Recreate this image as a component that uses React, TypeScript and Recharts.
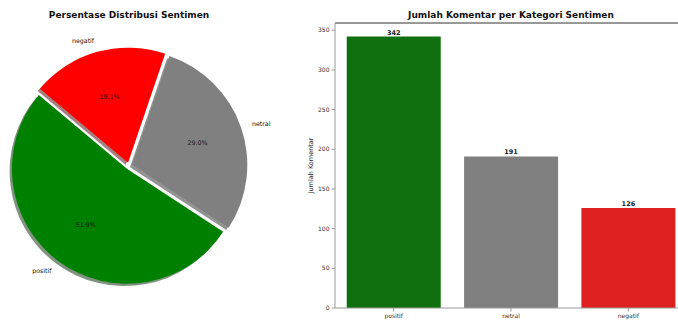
import { PieChart, Pie, Sector, BarChart, Bar, XAxis, YAxis, Cell, LabelList, ReferenceLine } from "recharts";

const categories = ["positif", "netral", "negatif"];
const counts = [342, 191, 126];
const yTicks = [0, 50, 100, 150, 200, 250, 300, 350];

const pieColors: Record<string, string> = { positif: "#008000", netral: "#808080", negatif: "#ff0000" };
const shadowColors: Record<string, string> = { positif: "#809380", netral: "#939393", negatif: "#a68080" };
const barColors: Record<string, string> = { positif: "#107010", netral: "#808080", negatif: "#df2020" };

const data = categories.map((name, i) => ({ name, value: counts[i] }));

const FONT = "DejaVu Sans, sans-serif";
const EXPLODE = 3.5;
const SHADOW = 2.3;

const renderWedge = (props: any) => {
  const { cx, cy, outerRadius, startAngle, endAngle, midAngle, name, percent } = props;
  const rad = (midAngle * Math.PI) / 180;
  const dx = Math.cos(rad);
  const dy = -Math.sin(rad);
  const ox = cx + EXPLODE * dx;
  const oy = cy + EXPLODE * dy;
  return (
    <g>
      <Sector
        cx={ox - SHADOW}
        cy={oy + SHADOW}
        innerRadius={0}
        outerRadius={outerRadius}
        startAngle={startAngle}
        endAngle={endAngle}
        fill={shadowColors[name]}
      />
      <Sector
        cx={ox}
        cy={oy}
        innerRadius={0}
        outerRadius={outerRadius}
        startAngle={startAngle}
        endAngle={endAngle}
        fill={pieColors[name]}
      />
      <text
        x={ox + outerRadius * 0.6 * dx}
        y={oy + outerRadius * 0.6 * dy}
        textAnchor="middle"
        dominantBaseline="central"
        fontSize={6.3}
        fontFamily={FONT}
        fill="#111"
      >
        {(percent * 100).toFixed(1)}%
      </text>
      <text
        x={ox + outerRadius * 1.1 * dx}
        y={oy + outerRadius * 1.1 * dy}
        textAnchor={dx > 0 ? "start" : "end"}
        dominantBaseline="central"
        fontSize={6.3}
        fontFamily={FONT}
        fill="#111"
      >
        {name}
      </text>
    </g>
  );
};

export default function App() {
  return (
    <div
      style={{
        position: "absolute",
        left: 0,
        top: 0,
        width: 678,
        height: 322,
        overflow: "hidden",
        background: "#fff",
        fontFamily: FONT,
      }}
    >
      <div
        style={{
          position: "absolute",
          left: 29,
          width: 200,
          top: 10,
          textAlign: "center",
          fontSize: 9,
          fontWeight: "bold",
          color: "#111",
        }}
      >
        Persentase Distribusi Sentimen
      </div>
      <div style={{ position: "absolute", left: 0, top: 0 }}>
        <PieChart width={290} height={322} margin={{ top: 0, right: 0, bottom: 0, left: 0 }}>
          <Pie
            data={data}
            dataKey="value"
            nameKey="name"
            cx={129}
            cy={166}
            outerRadius={115}
            startAngle={140}
            endAngle={500}
            fill="transparent"
            stroke="none"
            label={renderWedge}
            labelLine={false}
            isAnimationActive={false}
          />
        </PieChart>
      </div>

      <div
        style={{
          position: "absolute",
          left: 391,
          width: 240,
          top: 10,
          textAlign: "center",
          fontSize: 9,
          fontWeight: "bold",
          color: "#111",
        }}
      >
        Jumlah Komentar per Kategori Sentimen
      </div>
      <div style={{ position: "absolute", left: 290, top: 0 }}>
        <BarChart
          width={402}
          height={322}
          data={data}
          margin={{ top: 23, right: 5, left: 20, bottom: 0 }}
          barCategoryGap="10%"
        >
          <XAxis
            dataKey="name"
            height={14}
            interval={0}
            tickSize={3.5}
            tick={{ fontSize: 6, fill: "#333", fontFamily: FONT }}
            axisLine={{ stroke: "#999" }}
            tickLine={{ stroke: "#999" }}
          />
          <YAxis
            width={25}
            domain={[0, 359.1]}
            ticks={yTicks}
            tickSize={3.5}
            tick={{ fontSize: 6, fill: "#333", fontFamily: FONT }}
            axisLine={{ stroke: "#999" }}
            tickLine={{ stroke: "#999" }}
            label={{
              value: "Jumlah Komentar",
              angle: -90,
              position: "insideLeft",
              offset: 1,
              style: { textAnchor: "middle", fontSize: 6.5, fill: "#222", fontFamily: FONT },
            }}
          />
          <ReferenceLine y={359.1} stroke="#333" strokeWidth={1} />
          <Bar dataKey="value" isAnimationActive={false}>
            {data.map((d) => (
              <Cell key={d.name} fill={barColors[d.name]} />
            ))}
            <LabelList
              dataKey="value"
              position="top"
              offset={2}
              style={{ fontSize: 6.5, fontWeight: "bold", fill: "#222", fontFamily: FONT }}
            />
          </Bar>
        </BarChart>
      </div>
    </div>
  );
}
